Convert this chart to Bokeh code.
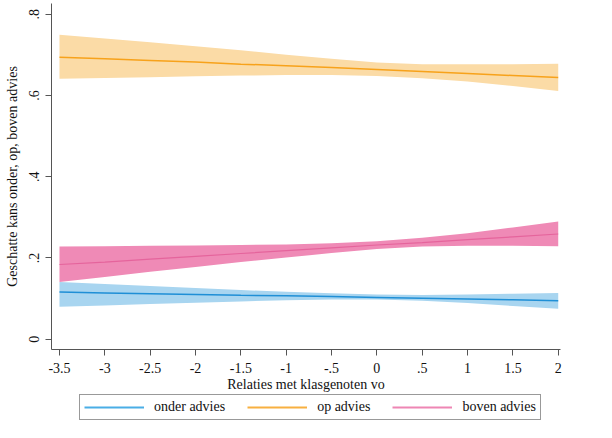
from bokeh.plotting import figure
from bokeh.models import Range1d, Legend, LegendItem, FixedTicker
from bokeh.layouts import column
from bokeh.embed import file_html
from bokeh.resources import INLINE

x = [-3.5, -3, -2.5, -2, -1.5, -1, -0.5, 0, 0.5, 1, 1.5, 2]

onder = [0.116, 0.114, 0.112, 0.110, 0.108, 0.107, 0.105, 0.103, 0.101, 0.099, 0.097, 0.095]
onder_hi = [0.141, 0.136, 0.131, 0.126, 0.121, 0.117, 0.113, 0.110, 0.109, 0.110, 0.112, 0.114]
onder_lo = [0.080, 0.083, 0.087, 0.090, 0.093, 0.096, 0.098, 0.098, 0.095, 0.089, 0.082, 0.075]

op = [0.694, 0.690, 0.686, 0.682, 0.677, 0.673, 0.669, 0.664, 0.659, 0.654, 0.649, 0.644]
op_hi = [0.749, 0.740, 0.731, 0.721, 0.711, 0.700, 0.690, 0.681, 0.677, 0.677, 0.677, 0.678]
op_lo = [0.641, 0.643, 0.645, 0.647, 0.649, 0.650, 0.650, 0.648, 0.642, 0.634, 0.623, 0.611]

boven = [0.184, 0.190, 0.197, 0.204, 0.211, 0.218, 0.225, 0.232, 0.238, 0.245, 0.252, 0.259]
boven_hi = [0.228, 0.229, 0.230, 0.231, 0.232, 0.233, 0.236, 0.241, 0.250, 0.261, 0.275, 0.290]
boven_lo = [0.141, 0.153, 0.166, 0.178, 0.190, 0.201, 0.212, 0.222, 0.228, 0.230, 0.230, 0.229]

series_labels = ["onder advies", "op advies", "boven advies"]

x_ticks = [-3.5, -3, -2.5, -2, -1.5, -1, -0.5, 0, 0.5, 1, 1.5, 2]
x_tick_labels = ["-3.5", "-3", "-2.5", "-2", "-1.5", "-1", "-.5", "0", ".5", "1", "1.5", "2"]
y_ticks = [0, 0.2, 0.4, 0.6, 0.8]
y_tick_labels = ["0", ".2", ".4", ".6", ".8"]

FONT = "Liberation Serif"
line_colors = ["#1f8fd6", "#f7a21b", "#e5649c"]
legend_colors = ["#4aaee6", "#f8b040", "#ee86b4"]

p = figure(width=596, height=394, output_backend="svg", toolbar_location=None,
           x_range=Range1d(-3.588, 2.025), y_range=Range1d(-0.0252, 0.8262),
           min_border_left=51, min_border_right=36, min_border_top=3, min_border_bottom=44)
p.outline_line_color = None
p.xgrid.visible = False
p.ygrid.visible = False

p.varea(x=x, y1=onder_lo, y2=onder_hi, fill_color="#a8d5f0", fill_alpha=1)
p.varea(x=x, y1=op_lo, y2=op_hi, fill_color="#fbdba6", fill_alpha=1)
p.varea(x=x, y1=boven_lo, y2=boven_hi, fill_color="#ef8ab6", fill_alpha=1)

p.line(x, onder, line_color=line_colors[0], line_width=1.5)
p.line(x, op, line_color=line_colors[1], line_width=1.5)
p.line(x, boven, line_color=line_colors[2], line_width=1.2)

for ax in (p.xaxis[0], p.yaxis[0]):
    ax.axis_line_color = "#555555"
    ax.major_tick_line_color = "#555555"
    ax.major_tick_out = 6
    ax.major_tick_in = 0
    ax.minor_tick_line_color = None
    ax.major_label_text_font = FONT
    ax.major_label_text_font_size = "14px"
    ax.major_label_text_color = "#111111"
    ax.axis_label_text_font = FONT
    ax.axis_label_text_font_size = "14px"
    ax.axis_label_text_font_style = "normal"
    ax.axis_label_text_color = "#111111"

p.xaxis.ticker = FixedTicker(ticks=x_ticks)
p.xaxis.major_label_overrides = {t: l for t, l in zip(x_ticks, x_tick_labels)}
p.xaxis.axis_label = "Relaties met klasgenoten vo"
p.xaxis.major_label_standoff = 7
p.xaxis.axis_label_standoff = 1

p.yaxis.ticker = FixedTicker(ticks=y_ticks)
p.yaxis.major_label_overrides = {t: l for t, l in zip(y_ticks, y_tick_labels)}
p.yaxis.major_label_orientation = "vertical"
p.yaxis.axis_label = "Geschatte kans onder, op, boven advies"
p.yaxis.major_label_standoff = 6
p.yaxis.axis_label_standoff = 7

# legend strip
p2 = figure(width=596, height=28, output_backend="svg", toolbar_location=None,
            x_range=Range1d(0, 1), y_range=Range1d(0, 1),
            min_border=0, x_axis_location=None, y_axis_location=None)
p2.outline_line_color = None
p2.xgrid.visible = False
p2.ygrid.visible = False
items = []
for lab, col in zip(series_labels, legend_colors):
    r = p2.line(x=[5, 6], y=[5, 6], line_color=col, line_width=2)
    items.append(LegendItem(label=lab, renderers=[r]))

legend = Legend(items=items, orientation="horizontal", location=(28, 2))
legend.label_text_font = FONT
legend.label_text_font_size = "14px"
legend.label_text_color = "#111111"
legend.glyph_width = 60
legend.glyph_height = 14
legend.label_standoff = 10
legend.spacing = 22
legend.padding = 4
legend.margin = 0
legend.border_line_color = "#333333"
legend.border_line_width = 1
legend.background_fill_color = "white"
legend.background_fill_alpha = 1
legend.label_height = 14
p2.add_layout(legend, "center")

layout = column(p, p2, spacing=0)
open("out.html", "w").write(file_html(layout, INLINE))
